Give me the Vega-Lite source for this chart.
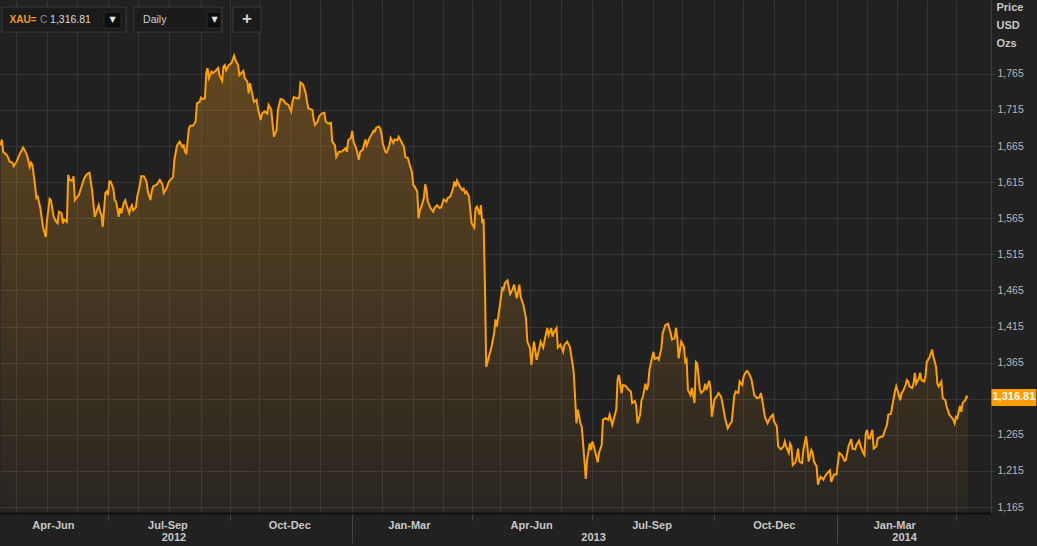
{
"$schema":"https://vega.github.io/schema/vega-lite/v6.json",
"width":991,"height":513,
"autosize":{"type":"none"},
"padding":{"left":0,"top":0,"right":46,"bottom":33},
"background":"#212121",
"config":{"view":{"stroke":null},"font":"Liberation Sans"},
"data":{"values":[
{"d":"2012-04-11","p":1666},{"d":"2012-04-12","p":1674},{"d":"2012-04-13","p":1657},{"d":"2012-04-16","p":1652},{"d":"2012-04-18","p":1643},{"d":"2012-04-20","p":1642},{"d":"2012-04-21","p":1637},{"d":"2012-04-23","p":1643},{"d":"2012-04-25","p":1652},{"d":"2012-04-28","p":1663},{"d":"2012-04-29","p":1660},
{"d":"2012-05-01","p":1652},{"d":"2012-05-03","p":1636},{"d":"2012-05-04","p":1642},{"d":"2012-05-05","p":1639},{"d":"2012-05-07","p":1611},{"d":"2012-05-08","p":1593},{"d":"2012-05-09","p":1595},{"d":"2012-05-11","p":1579},{"d":"2012-05-13","p":1553},{"d":"2012-05-15","p":1539},{"d":"2012-05-16","p":1562},{"d":"2012-05-18","p":1592},{"d":"2012-05-19","p":1590},{"d":"2012-05-21","p":1567},{"d":"2012-05-23","p":1560},{"d":"2012-05-24","p":1558},{"d":"2012-05-25","p":1574},{"d":"2012-05-27","p":1572},{"d":"2012-05-28","p":1558},{"d":"2012-05-29","p":1563},{"d":"2012-05-31","p":1560},
{"d":"2012-06-01","p":1625},{"d":"2012-06-02","p":1618},{"d":"2012-06-04","p":1617},{"d":"2012-06-05","p":1623},{"d":"2012-06-06","p":1590},{"d":"2012-06-08","p":1595},{"d":"2012-06-09","p":1597},{"d":"2012-06-11","p":1609},{"d":"2012-06-13","p":1620},{"d":"2012-06-15","p":1626},{"d":"2012-06-17","p":1628},{"d":"2012-06-18","p":1616},{"d":"2012-06-19","p":1604},{"d":"2012-06-21","p":1567},{"d":"2012-06-22","p":1572},{"d":"2012-06-24","p":1583},{"d":"2012-06-25","p":1574},{"d":"2012-06-26","p":1570},{"d":"2012-06-27","p":1553},{"d":"2012-06-29","p":1600},{"d":"2012-06-30","p":1602},
{"d":"2012-07-01","p":1597},{"d":"2012-07-02","p":1616},{"d":"2012-07-03","p":1616},{"d":"2012-07-05","p":1606},{"d":"2012-07-06","p":1590},{"d":"2012-07-07","p":1588},{"d":"2012-07-08","p":1579},{"d":"2012-07-09","p":1567},{"d":"2012-07-10","p":1579},{"d":"2012-07-11","p":1572},{"d":"2012-07-13","p":1587},{"d":"2012-07-14","p":1590},{"d":"2012-07-15","p":1583},{"d":"2012-07-17","p":1572},{"d":"2012-07-18","p":1579},{"d":"2012-07-19","p":1583},{"d":"2012-07-20","p":1576},{"d":"2012-07-22","p":1580},{"d":"2012-07-23","p":1595},{"d":"2012-07-25","p":1611},{"d":"2012-07-26","p":1623},{"d":"2012-07-28","p":1623},{"d":"2012-07-30","p":1616},{"d":"2012-07-31","p":1602},
{"d":"2012-08-02","p":1590},{"d":"2012-08-03","p":1603},{"d":"2012-08-04","p":1609},{"d":"2012-08-06","p":1611},{"d":"2012-08-07","p":1612},{"d":"2012-08-09","p":1618},{"d":"2012-08-11","p":1612},{"d":"2012-08-12","p":1600},{"d":"2012-08-14","p":1606},{"d":"2012-08-16","p":1616},{"d":"2012-08-19","p":1622},{"d":"2012-08-20","p":1646},{"d":"2012-08-22","p":1666},{"d":"2012-08-24","p":1671},{"d":"2012-08-26","p":1664},{"d":"2012-08-27","p":1666},{"d":"2012-08-28","p":1657},{"d":"2012-08-29","p":1655},{"d":"2012-08-31","p":1690},
{"d":"2012-09-01","p":1693},{"d":"2012-09-03","p":1693},{"d":"2012-09-05","p":1699},{"d":"2012-09-06","p":1724},{"d":"2012-09-08","p":1726},{"d":"2012-09-09","p":1732},{"d":"2012-09-10","p":1730},{"d":"2012-09-12","p":1731},{"d":"2012-09-13","p":1766},{"d":"2012-09-14","p":1773},{"d":"2012-09-15","p":1759},{"d":"2012-09-17","p":1768},{"d":"2012-09-18","p":1766},{"d":"2012-09-20","p":1769},{"d":"2012-09-22","p":1773},{"d":"2012-09-23","p":1763},{"d":"2012-09-25","p":1755},{"d":"2012-09-26","p":1775},{"d":"2012-09-27","p":1777},{"d":"2012-09-28","p":1770},{"d":"2012-09-30","p":1777},
{"d":"2012-10-02","p":1780},{"d":"2012-10-04","p":1790},{"d":"2012-10-05","p":1784},{"d":"2012-10-07","p":1777},{"d":"2012-10-08","p":1763},{"d":"2012-10-11","p":1769},{"d":"2012-10-12","p":1759},{"d":"2012-10-14","p":1754},{"d":"2012-10-15","p":1738},{"d":"2012-10-16","p":1752},{"d":"2012-10-17","p":1743},{"d":"2012-10-19","p":1726},{"d":"2012-10-21","p":1729},{"d":"2012-10-22","p":1717},{"d":"2012-10-24","p":1701},{"d":"2012-10-25","p":1710},{"d":"2012-10-27","p":1713},{"d":"2012-10-29","p":1710},{"d":"2012-10-30","p":1722},
{"d":"2012-11-01","p":1715},{"d":"2012-11-02","p":1696},{"d":"2012-11-03","p":1678},{"d":"2012-11-05","p":1687},{"d":"2012-11-06","p":1715},{"d":"2012-11-08","p":1730},{"d":"2012-11-10","p":1729},{"d":"2012-11-12","p":1724},{"d":"2012-11-14","p":1722},{"d":"2012-11-16","p":1713},{"d":"2012-11-17","p":1726},{"d":"2012-11-18","p":1733},{"d":"2012-11-20","p":1731},{"d":"2012-11-22","p":1731},{"d":"2012-11-23","p":1753},{"d":"2012-11-25","p":1750},{"d":"2012-11-27","p":1738},{"d":"2012-11-28","p":1726},{"d":"2012-11-29","p":1717},
{"d":"2012-12-02","p":1715},{"d":"2012-12-03","p":1701},{"d":"2012-12-04","p":1694},{"d":"2012-12-06","p":1699},{"d":"2012-12-07","p":1706},{"d":"2012-12-09","p":1710},{"d":"2012-12-11","p":1711},{"d":"2012-12-12","p":1699},{"d":"2012-12-14","p":1696},{"d":"2012-12-16","p":1697},{"d":"2012-12-17","p":1671},{"d":"2012-12-19","p":1666},{"d":"2012-12-20","p":1650},{"d":"2012-12-22","p":1657},{"d":"2012-12-24","p":1657},{"d":"2012-12-27","p":1662},{"d":"2012-12-28","p":1657},{"d":"2012-12-29","p":1673},{"d":"2012-12-31","p":1676},
{"d":"2013-01-01","p":1686},{"d":"2013-01-02","p":1671},{"d":"2013-01-04","p":1662},{"d":"2013-01-06","p":1646},{"d":"2013-01-07","p":1657},{"d":"2013-01-09","p":1660},{"d":"2013-01-11","p":1674},{"d":"2013-01-12","p":1666},{"d":"2013-01-14","p":1676},{"d":"2013-01-16","p":1682},{"d":"2013-01-17","p":1686},{"d":"2013-01-18","p":1685},{"d":"2013-01-19","p":1690},{"d":"2013-01-21","p":1692},{"d":"2013-01-22","p":1690},{"d":"2013-01-23","p":1683},{"d":"2013-01-24","p":1669},{"d":"2013-01-26","p":1657},{"d":"2013-01-27","p":1656},{"d":"2013-01-29","p":1666},{"d":"2013-01-30","p":1676},
{"d":"2013-02-01","p":1669},{"d":"2013-02-02","p":1674},{"d":"2013-02-04","p":1673},{"d":"2013-02-05","p":1678},{"d":"2013-02-07","p":1671},{"d":"2013-02-09","p":1664},{"d":"2013-02-10","p":1650},{"d":"2013-02-12","p":1648},{"d":"2013-02-13","p":1641},{"d":"2013-02-15","p":1629},{"d":"2013-02-16","p":1611},{"d":"2013-02-17","p":1609},{"d":"2013-02-19","p":1602},{"d":"2013-02-20","p":1565},{"d":"2013-02-21","p":1576},{"d":"2013-02-22","p":1580},{"d":"2013-02-24","p":1593},{"d":"2013-02-25","p":1612},{"d":"2013-02-26","p":1604},{"d":"2013-02-27","p":1588},
{"d":"2013-03-01","p":1579},{"d":"2013-03-03","p":1574},{"d":"2013-03-04","p":1579},{"d":"2013-03-06","p":1583},{"d":"2013-03-08","p":1579},{"d":"2013-03-09","p":1580},{"d":"2013-03-11","p":1591},{"d":"2013-03-13","p":1588},{"d":"2013-03-14","p":1593},{"d":"2013-03-16","p":1595},{"d":"2013-03-18","p":1606},{"d":"2013-03-19","p":1616},{"d":"2013-03-20","p":1609},{"d":"2013-03-21","p":1617},{"d":"2013-03-23","p":1609},{"d":"2013-03-25","p":1604},{"d":"2013-03-26","p":1606},{"d":"2013-03-27","p":1600},{"d":"2013-03-28","p":1602},{"d":"2013-03-30","p":1595},{"d":"2013-03-31","p":1576},
{"d":"2013-04-01","p":1558},{"d":"2013-04-03","p":1552},{"d":"2013-04-04","p":1579},{"d":"2013-04-05","p":1581},{"d":"2013-04-07","p":1570},{"d":"2013-04-08","p":1583},{"d":"2013-04-09","p":1558},{"d":"2013-04-10","p":1564},{"d":"2013-04-11","p":1475},{"d":"2013-04-12","p":1359},{"d":"2013-04-14","p":1373},{"d":"2013-04-16","p":1387},{"d":"2013-04-18","p":1406},{"d":"2013-04-19","p":1425},{"d":"2013-04-20","p":1415},{"d":"2013-04-22","p":1440},{"d":"2013-04-24","p":1468},{"d":"2013-04-25","p":1466},{"d":"2013-04-26","p":1475},{"d":"2013-04-28","p":1479},{"d":"2013-04-30","p":1460},
{"d":"2013-05-02","p":1467},{"d":"2013-05-03","p":1473},{"d":"2013-05-05","p":1454},{"d":"2013-05-07","p":1473},{"d":"2013-05-08","p":1456},{"d":"2013-05-10","p":1445},{"d":"2013-05-12","p":1426},{"d":"2013-05-13","p":1394},{"d":"2013-05-15","p":1385},{"d":"2013-05-16","p":1362},{"d":"2013-05-18","p":1394},{"d":"2013-05-20","p":1369},{"d":"2013-05-22","p":1385},{"d":"2013-05-23","p":1394},{"d":"2013-05-25","p":1386},{"d":"2013-05-26","p":1396},{"d":"2013-05-28","p":1413},{"d":"2013-05-29","p":1403},{"d":"2013-05-31","p":1413},
{"d":"2013-06-01","p":1401},{"d":"2013-06-02","p":1407},{"d":"2013-06-04","p":1413},{"d":"2013-06-05","p":1386},{"d":"2013-06-07","p":1390},{"d":"2013-06-09","p":1380},{"d":"2013-06-10","p":1390},{"d":"2013-06-12","p":1394},{"d":"2013-06-14","p":1387},{"d":"2013-06-16","p":1364},{"d":"2013-06-17","p":1350},{"d":"2013-06-19","p":1281},{"d":"2013-06-20","p":1300},{"d":"2013-06-22","p":1281},{"d":"2013-06-23","p":1276},{"d":"2013-06-25","p":1230},{"d":"2013-06-26","p":1204},{"d":"2013-06-27","p":1230},{"d":"2013-06-29","p":1253},{"d":"2013-06-30","p":1244},
{"d":"2013-07-01","p":1256},{"d":"2013-07-02","p":1250},{"d":"2013-07-05","p":1227},{"d":"2013-07-06","p":1240},{"d":"2013-07-08","p":1251},{"d":"2013-07-09","p":1286},{"d":"2013-07-11","p":1288},{"d":"2013-07-13","p":1286},{"d":"2013-07-14","p":1293},{"d":"2013-07-16","p":1279},{"d":"2013-07-17","p":1286},{"d":"2013-07-19","p":1300},{"d":"2013-07-20","p":1341},{"d":"2013-07-21","p":1348},{"d":"2013-07-23","p":1323},{"d":"2013-07-24","p":1334},{"d":"2013-07-26","p":1333},{"d":"2013-07-28","p":1328},{"d":"2013-07-30","p":1325},{"d":"2013-07-31","p":1309},
{"d":"2013-08-02","p":1312},{"d":"2013-08-03","p":1306},{"d":"2013-08-04","p":1281},{"d":"2013-08-06","p":1293},{"d":"2013-08-07","p":1313},{"d":"2013-08-08","p":1317},{"d":"2013-08-10","p":1336},{"d":"2013-08-11","p":1327},{"d":"2013-08-12","p":1334},{"d":"2013-08-13","p":1355},{"d":"2013-08-15","p":1372},{"d":"2013-08-16","p":1380},{"d":"2013-08-17","p":1370},{"d":"2013-08-19","p":1372},{"d":"2013-08-20","p":1369},{"d":"2013-08-22","p":1385},{"d":"2013-08-23","p":1406},{"d":"2013-08-25","p":1417},{"d":"2013-08-27","p":1419},{"d":"2013-08-29","p":1406},{"d":"2013-08-30","p":1397},
{"d":"2013-09-01","p":1399},{"d":"2013-09-02","p":1413},{"d":"2013-09-03","p":1399},{"d":"2013-09-04","p":1371},{"d":"2013-09-06","p":1394},{"d":"2013-09-08","p":1387},{"d":"2013-09-09","p":1366},{"d":"2013-09-10","p":1369},{"d":"2013-09-11","p":1327},{"d":"2013-09-13","p":1320},{"d":"2013-09-14","p":1330},{"d":"2013-09-16","p":1309},{"d":"2013-09-17","p":1366},{"d":"2013-09-18","p":1364},{"d":"2013-09-20","p":1328},{"d":"2013-09-21","p":1323},{"d":"2013-09-23","p":1327},{"d":"2013-09-24","p":1336},{"d":"2013-09-25","p":1327},{"d":"2013-09-27","p":1340},{"d":"2013-09-28","p":1330},{"d":"2013-09-29","p":1290},
{"d":"2013-10-01","p":1314},{"d":"2013-10-03","p":1319},{"d":"2013-10-04","p":1323},{"d":"2013-10-06","p":1318},{"d":"2013-10-07","p":1309},{"d":"2013-10-09","p":1288},{"d":"2013-10-11","p":1274},{"d":"2013-10-13","p":1281},{"d":"2013-10-14","p":1283},{"d":"2013-10-16","p":1320},{"d":"2013-10-17","p":1325},{"d":"2013-10-19","p":1323},{"d":"2013-10-20","p":1339},{"d":"2013-10-22","p":1334},{"d":"2013-10-23","p":1346},{"d":"2013-10-25","p":1353},{"d":"2013-10-26","p":1353},{"d":"2013-10-28","p":1346},{"d":"2013-10-29","p":1341},{"d":"2013-10-31","p":1320},
{"d":"2013-11-02","p":1316},{"d":"2013-11-04","p":1317},{"d":"2013-11-05","p":1323},{"d":"2013-11-06","p":1313},{"d":"2013-11-08","p":1290},{"d":"2013-11-10","p":1281},{"d":"2013-11-12","p":1289},{"d":"2013-11-14","p":1293},{"d":"2013-11-15","p":1283},{"d":"2013-11-17","p":1277},{"d":"2013-11-18","p":1249},{"d":"2013-11-20","p":1245},{"d":"2013-11-22","p":1249},{"d":"2013-11-23","p":1256},{"d":"2013-11-24","p":1249},{"d":"2013-11-26","p":1240},{"d":"2013-11-27","p":1253},{"d":"2013-11-28","p":1249},{"d":"2013-11-29","p":1223},
{"d":"2013-12-01","p":1227},{"d":"2013-12-02","p":1235},{"d":"2013-12-03","p":1246},{"d":"2013-12-04","p":1228},{"d":"2013-12-06","p":1226},{"d":"2013-12-07","p":1244},{"d":"2013-12-09","p":1263},{"d":"2013-12-10","p":1249},{"d":"2013-12-11","p":1228},{"d":"2013-12-13","p":1244},{"d":"2013-12-14","p":1240},{"d":"2013-12-15","p":1228},{"d":"2013-12-17","p":1221},{"d":"2013-12-18","p":1196},{"d":"2013-12-19","p":1203},{"d":"2013-12-20","p":1207},{"d":"2013-12-22","p":1203},{"d":"2013-12-23","p":1207},{"d":"2013-12-25","p":1212},{"d":"2013-12-27","p":1216},{"d":"2013-12-28","p":1200},{"d":"2013-12-30","p":1210},
{"d":"2014-01-01","p":1210},{"d":"2014-01-02","p":1226},{"d":"2014-01-03","p":1240},{"d":"2014-01-05","p":1237},{"d":"2014-01-07","p":1229},{"d":"2014-01-08","p":1230},{"d":"2014-01-10","p":1249},{"d":"2014-01-12","p":1259},{"d":"2014-01-13","p":1246},{"d":"2014-01-15","p":1245},{"d":"2014-01-16","p":1251},{"d":"2014-01-18","p":1257},{"d":"2014-01-19","p":1250},{"d":"2014-01-21","p":1240},{"d":"2014-01-22","p":1237},{"d":"2014-01-23","p":1267},{"d":"2014-01-24","p":1272},{"d":"2014-01-25","p":1260},{"d":"2014-01-26","p":1260},{"d":"2014-01-28","p":1272},{"d":"2014-01-29","p":1246},{"d":"2014-01-31","p":1249},
{"d":"2014-02-01","p":1260},{"d":"2014-02-03","p":1262},{"d":"2014-02-05","p":1263},{"d":"2014-02-06","p":1269},{"d":"2014-02-08","p":1279},{"d":"2014-02-09","p":1293},{"d":"2014-02-11","p":1294},{"d":"2014-02-12","p":1305},{"d":"2014-02-14","p":1325},{"d":"2014-02-15","p":1332},{"d":"2014-02-17","p":1320},{"d":"2014-02-18","p":1313},{"d":"2014-02-19","p":1323},{"d":"2014-02-20","p":1325},{"d":"2014-02-22","p":1334},{"d":"2014-02-23","p":1341},{"d":"2014-02-24","p":1339},{"d":"2014-02-25","p":1332},{"d":"2014-02-27","p":1330},{"d":"2014-02-28","p":1336},
{"d":"2014-03-01","p":1351},{"d":"2014-03-02","p":1336},{"d":"2014-03-04","p":1343},{"d":"2014-03-05","p":1351},{"d":"2014-03-06","p":1341},{"d":"2014-03-08","p":1339},{"d":"2014-03-09","p":1346},{"d":"2014-03-10","p":1366},{"d":"2014-03-12","p":1372},{"d":"2014-03-14","p":1383},{"d":"2014-03-15","p":1373},{"d":"2014-03-17","p":1359},{"d":"2014-03-18","p":1336},{"d":"2014-03-19","p":1332},{"d":"2014-03-21","p":1339},{"d":"2014-03-22","p":1316},{"d":"2014-03-24","p":1313},{"d":"2014-03-25","p":1304},{"d":"2014-03-27","p":1293},{"d":"2014-03-28","p":1291},{"d":"2014-03-30","p":1286},{"d":"2014-03-31","p":1281},
{"d":"2014-04-01","p":1290},{"d":"2014-04-02","p":1288},{"d":"2014-04-04","p":1305},{"d":"2014-04-05","p":1297},{"d":"2014-04-06","p":1309},{"d":"2014-04-08","p":1313},{"d":"2014-04-09","p":1318},{"d":"2014-04-10","p":1316.81}
]},
"layer":[
{"mark":{"type":"area","clip":true,"fill":{"gradient":"linear","x1":0,"y1":0,"x2":0,"y2":1,"stops":[{"offset":0,"color":"rgba(243,156,30,0.31)"},{"offset":1,"color":"rgba(243,156,30,0.035)"}]},"fillOpacity":1},
 "encoding":{
  "x":{"field":"d","type":"temporal","scale":{"type":"utc","domain":[{"year":2012,"month":4,"date":10,"hours":14,"minutes":24,"utc":true},{"year":2014,"month":4,"date":27,"hours":9,"minutes":36,"utc":true}]},
   "axis":{"orient":"bottom","title":null,"labels":false,"grid":true,"gridColor":"#353535","gridWidth":1,"domain":true,"domainColor":"#0e0e0e","domainWidth":2,"ticks":true,
    "tickColor":{"condition":{"test":"utcdate(datum.value)==1","value":"#454545"},"value":"transparent"},
    "tickSize":{"condition":{"test":"utcmonth(datum.value)==0 && utcdate(datum.value)==1","value":30},"value":7},
    "values":[
     {"year":2012,"month":4,"date":22,"hours":16,"utc":true},{"year":2012,"month":5,"date":16,"utc":true},{"year":2012,"month":6,"date":7,"hours":14,"utc":true},{"year":2012,"month":7,"date":1,"utc":true},
     {"year":2012,"month":7,"date":23,"hours":14,"utc":true},{"year":2012,"month":8,"date":16,"utc":true},{"year":2012,"month":9,"date":9,"hours":2,"utc":true},{"year":2012,"month":10,"date":1,"utc":true},
     {"year":2012,"month":10,"date":22,"hours":19,"utc":true},{"year":2012,"month":11,"date":15,"hours":2,"utc":true},{"year":2012,"month":12,"date":7,"hours":19,"utc":true},{"year":2013,"month":1,"date":1,"utc":true},
     {"year":2013,"month":1,"date":23,"hours":12,"utc":true},{"year":2013,"month":2,"date":15,"hours":19,"utc":true},{"year":2013,"month":3,"date":10,"hours":10,"utc":true},{"year":2013,"month":4,"date":1,"utc":true},
     {"year":2013,"month":4,"date":22,"hours":10,"utc":true},{"year":2013,"month":5,"date":15,"utc":true},{"year":2013,"month":6,"date":7,"hours":10,"utc":true},{"year":2013,"month":7,"date":1,"utc":true},
     {"year":2013,"month":7,"date":23,"hours":7,"utc":true},{"year":2013,"month":8,"date":15,"hours":17,"utc":true},{"year":2013,"month":9,"date":6,"hours":14,"utc":true},{"year":2013,"month":10,"date":1,"utc":true},
     {"year":2013,"month":10,"date":22,"hours":12,"utc":true},{"year":2013,"month":11,"date":14,"hours":22,"utc":true},{"year":2013,"month":12,"date":8,"hours":7,"utc":true},{"year":2014,"month":1,"date":1,"utc":true},
     {"year":2014,"month":1,"date":24,"utc":true},{"year":2014,"month":2,"date":15,"hours":14,"utc":true},{"year":2014,"month":3,"date":10,"hours":5,"utc":true},{"year":2014,"month":4,"date":1,"utc":true}
    ]}},
  "y":{"field":"p","type":"quantitative","scale":{"domain":[1156.8,1867.2],"nice":false,"zero":false},
   "axis":{"orient":"right","values":[1165,1215,1265,1315,1365,1415,1465,1515,1565,1615,1665,1715,1765],
    "grid":true,"gridColor":"#353535","gridWidth":1,"ticks":true,"tickColor":"#353535","tickSize":4,"domain":true,"domainColor":"#3e3e3e","domainWidth":1,
    "labelColor":"#b8b8b8","labelFont":"Liberation Sans","labelFontSize":10.5,"labelPadding":2,"labelOverlap":false,"labelBound":false,
    "labelExpr":"datum.value == 1315 ? '' : format(datum.value, ',')",
    "title":["Price","USD","Ozs"],"titleAngle":0,"titleAlign":"left","titleBaseline":"top","titleX":5,"titleY":1,"titleColor":"#c8c8c8","titleFont":"Liberation Sans","titleFontSize":11,"titleFontWeight":"bold","titleLineHeight":18}},
  "y2":{"datum":1156.8}
 }},
{"mark":{"type":"line","clip":true,"color":"#ffa000","strokeWidth":2},
 "encoding":{
  "x":{"field":"d","type":"temporal",
   "axis":{"orient":"bottom","title":null,"grid":false,"ticks":false,"tickSize":0,"domain":false,"labelPadding":6,"labelColor":"#c8c8c8","labelFont":"Liberation Sans","labelFontSize":11,"labelFontWeight":"bold","labelFlush":false,"labelOverlap":false,"labelBound":false,
    "labelExpr":"['Jan-Mar','Apr-Jun','Jul-Sep','Oct-Dec'][floor(utcmonth(datum.value)/3)]",
    "values":[{"year":2012,"month":5,"date":20,"hours":12,"utc":true},{"year":2012,"month":8,"date":14,"hours":19,"utc":true},{"year":2012,"month":11,"date":14,"hours":14,"utc":true},{"year":2013,"month":2,"date":12,"hours":17,"utc":true},{"year":2013,"month":5,"date":15,"hours":19,"utc":true},{"year":2013,"month":8,"date":14,"hours":14,"utc":true},{"year":2013,"month":11,"date":14,"hours":17,"utc":true},{"year":2014,"month":2,"date":13,"hours":12,"utc":true}]}},
  "y":{"field":"p","type":"quantitative","axis":null}
 }},
{"transform":[{"window":[{"op":"row_number","as":"rn"}],"sort":[{"field":"d","order":"descending"}]},{"filter":"datum.rn == 1"}],
 "mark":{"type":"tick","orient":"horizontal","color":"#ff9c00","opacity":1,"size":45,"thickness":17,"xOffset":46},
 "encoding":{
  "x":{"field":"d","type":"temporal",
   "axis":{"orient":"bottom","title":null,"grid":false,"ticks":false,"tickSize":0,"domain":false,"labelPadding":18,"labelColor":"#c8c8c8","labelFont":"Liberation Sans","labelFontSize":11,"labelFontWeight":"bold","labelFlush":false,"labelOverlap":false,"labelBound":false,
    "labelExpr":"'' + utcyear(datum.value)",
    "values":[{"year":2012,"month":8,"date":19,"hours":8,"utc":true},{"year":2013,"month":7,"date":1,"hours":12,"utc":true},{"year":2014,"month":2,"date":20,"hours":22,"utc":true}]}},
  "y":{"field":"p","type":"quantitative","axis":null}
 }},
{"transform":[{"window":[{"op":"row_number","as":"rn"}],"sort":[{"field":"d","order":"descending"}]},{"filter":"datum.rn == 1"}],
 "mark":{"type":"text","color":"#ffffff","font":"Liberation Sans","fontSize":11,"fontWeight":"bold","align":"center","baseline":"middle","xOffset":46},
 "encoding":{
  "x":{"field":"d","type":"temporal","axis":null},
  "y":{"field":"p","type":"quantitative","axis":null},
  "text":{"field":"p","type":"quantitative","format":",.2f"}
 }},
{"data":{"values":[{}]},"mark":{"type":"rect","fill":"#1b1b1b","stroke":"#3c3c3c","strokeWidth":1},
 "encoding":{"x":{"datum":{"year":2012,"month":4,"date":12,"hours":2,"utc":true},"type":"temporal","axis":null},"x2":{"datum":{"year":2012,"month":7,"date":14,"hours":13,"utc":true}},"y":{"datum":1857.5,"type":"quantitative","axis":null},"y2":{"datum":1822.8}}},
{"data":{"values":[{}]},"mark":{"type":"rect","fill":"#1b1b1b","stroke":"#3c3c3c","strokeWidth":1},
 "encoding":{"x":{"datum":{"year":2012,"month":7,"date":20,"hours":14,"utc":true},"type":"temporal","axis":null},"x2":{"datum":{"year":2012,"month":9,"date":24,"hours":22,"utc":true}},"y":{"datum":1857.5,"type":"quantitative","axis":null},"y2":{"datum":1822.8}}},
{"data":{"values":[{}]},"mark":{"type":"rect","fill":"#1b1b1b","stroke":"#3c3c3c","strokeWidth":1},
 "encoding":{"x":{"datum":{"year":2012,"month":10,"date":3,"hours":5,"utc":true},"type":"temporal","axis":null},"x2":{"datum":{"year":2012,"month":10,"date":24,"hours":7,"utc":true}},"y":{"datum":1857.5,"type":"quantitative","axis":null},"y2":{"datum":1822.8}}},
{"data":{"values":[{}]},"mark":{"type":"rect","fill":"#0d0d0d","stroke":"#2e2e2e","strokeWidth":1},
 "encoding":{"x":{"datum":{"year":2012,"month":6,"date":27,"hours":23,"utc":true},"type":"temporal","axis":null},"x2":{"datum":{"year":2012,"month":7,"date":10,"hours":19,"utc":true}},"y":{"datum":1850.5,"type":"quantitative","axis":null},"y2":{"datum":1828.4}}},
{"data":{"values":[{}]},"mark":{"type":"rect","fill":"#0d0d0d","stroke":"#2e2e2e","strokeWidth":1},
 "encoding":{"x":{"datum":{"year":2012,"month":9,"date":13,"hours":14,"utc":true},"type":"temporal","axis":null},"x2":{"datum":{"year":2012,"month":9,"date":24,"hours":2,"utc":true}},"y":{"datum":1850.5,"type":"quantitative","axis":null},"y2":{"datum":1828.4}}},
{"data":{"values":[{}]},"mark":{"type":"text","text":"XAU=","color":"#f39a1e","font":"Liberation Sans","fontSize":10,"fontWeight":"bold","align":"left","baseline":"middle"},
 "encoding":{"x":{"datum":{"year":2012,"month":4,"date":17,"hours":18,"utc":true},"type":"temporal","axis":null},"y":{"datum":1839.5,"type":"quantitative","axis":null}}},
{"data":{"values":[{}]},"mark":{"type":"text","text":"C","color":"#8c8c8c","font":"Liberation Sans","fontSize":10,"align":"left","baseline":"middle"},
 "encoding":{"x":{"datum":{"year":2012,"month":5,"date":10,"hours":18,"utc":true},"type":"temporal","axis":null},"y":{"datum":1839.5,"type":"quantitative","axis":null}}},
{"data":{"values":[{}]},"mark":{"type":"text","text":"1,316.81","color":"#dcdcdc","font":"Liberation Sans","fontSize":10.5,"align":"left","baseline":"middle"},
 "encoding":{"x":{"datum":{"year":2012,"month":5,"date":18,"hours":8,"utc":true},"type":"temporal","axis":null},"y":{"datum":1839.5,"type":"quantitative","axis":null}}},
{"data":{"values":[{}]},"mark":{"type":"text","text":"Daily","color":"#cfcfcf","font":"Liberation Sans","fontSize":10.5,"align":"left","baseline":"middle"},
 "encoding":{"x":{"datum":{"year":2012,"month":7,"date":27,"hours":10,"utc":true},"type":"temporal","axis":null},"y":{"datum":1839.5,"type":"quantitative","axis":null}}},
{"data":{"values":[{}]},"mark":{"type":"text","text":"▼","color":"#e6e6e6","font":"DejaVu Sans","fontSize":8,"align":"center","baseline":"middle"},
 "encoding":{"x":{"datum":{"year":2012,"month":7,"date":4,"hours":9,"utc":true},"type":"temporal","axis":null},"y":{"datum":1839.5,"type":"quantitative","axis":null}}},
{"data":{"values":[{}]},"mark":{"type":"text","text":"▼","color":"#e6e6e6","font":"DejaVu Sans","fontSize":8,"align":"center","baseline":"middle"},
 "encoding":{"x":{"datum":{"year":2012,"month":9,"date":19,"hours":6,"utc":true},"type":"temporal","axis":null},"y":{"datum":1839.5,"type":"quantitative","axis":null}}},
{"data":{"values":[{}]},"mark":{"type":"text","text":"+","color":"#d6d6d6","font":"Liberation Sans","fontSize":17,"fontWeight":"bold","align":"center","baseline":"middle"},
 "encoding":{"x":{"datum":{"year":2012,"month":10,"date":13,"hours":17,"utc":true},"type":"temporal","axis":null},"y":{"datum":1840.5,"type":"quantitative","axis":null}}}
],
"resolve":{"axis":{"x":"independent","y":"independent"}}
}
